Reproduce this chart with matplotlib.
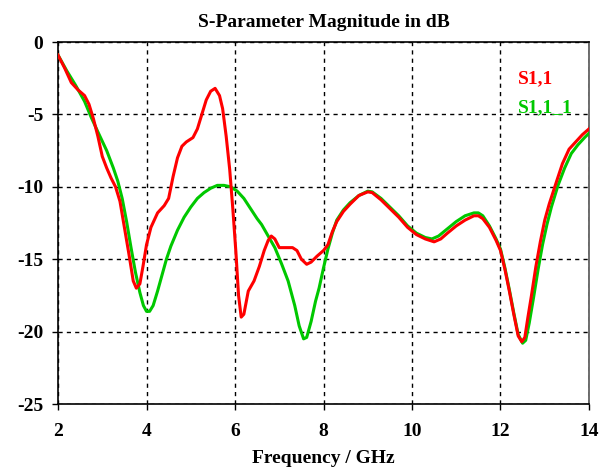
import matplotlib
matplotlib.use("Agg")
import matplotlib.pyplot as plt

plt.rcParams["font.family"] = ["Liberation Serif", "DejaVu Serif"]
plt.rcParams["font.weight"] = "bold"
plt.rcParams["axes.unicode_minus"] = False

# S1,1 magnitude (dB) vs frequency (GHz)
freq_s11 = [2.0, 2.15, 2.3, 2.45, 2.6, 2.7, 2.8, 2.9, 3.0, 3.1, 3.2, 3.3, 3.4, 3.5,
            3.6, 3.7, 3.77, 3.85, 3.92, 4.0, 4.1, 4.25, 4.4, 4.5, 4.6, 4.7, 4.8, 4.9,
            5.05, 5.15, 5.25, 5.35, 5.45, 5.55, 5.65, 5.72, 5.8, 5.88, 5.95, 6.02,
            6.08, 6.14, 6.2, 6.3, 6.43, 6.55, 6.66, 6.75, 6.82, 6.9, 7.0, 7.1, 7.3,
            7.4, 7.5, 7.62, 7.72, 7.85, 8.0, 8.1, 8.2, 8.3, 8.45, 8.6, 8.8, 9.0, 9.1,
            9.3, 9.5, 9.7, 9.9, 10.1, 10.3, 10.5, 10.65, 10.8, 11.0, 11.2, 11.4, 11.5,
            11.6, 11.75, 11.9, 12.0, 12.1, 12.2, 12.3, 12.4, 12.48, 12.55, 12.62, 12.7,
            12.8, 12.9, 13.0, 13.1, 13.27, 13.4, 13.55, 13.7, 13.85, 14.0]
db_s11 = [-0.9, -1.8, -2.8, -3.3, -3.7, -4.3, -5.3, -6.5, -7.9, -8.7, -9.4, -10.0,
          -11.0, -12.8, -14.6, -16.5, -17.0, -16.7, -15.5, -14.0, -12.8, -11.8, -11.3,
          -10.8, -9.3, -8.0, -7.2, -6.9, -6.6, -6.0, -5.0, -4.0, -3.4, -3.2, -3.7,
          -4.6, -6.5, -8.8, -11.5, -14.5, -17.5, -19.0, -18.8, -17.2, -16.5, -15.5,
          -14.4, -13.7, -13.4, -13.6, -14.2, -14.2, -14.2, -14.4, -15.0, -15.35,
          -15.2, -14.8, -14.4, -14.0, -13.1, -12.4, -11.7, -11.2, -10.6, -10.35,
          -10.4, -10.9, -11.5, -12.1, -12.8, -13.3, -13.6, -13.8, -13.6, -13.2,
          -12.7, -12.3, -12.0, -12.0, -12.2, -12.8, -13.7, -14.4, -15.7, -17.2,
          -18.8, -20.3, -20.7, -20.4, -19.0, -17.5, -15.5, -13.8, -12.3, -11.2,
          -9.6, -8.4, -7.4, -6.9, -6.4, -6.0]

# S1,1_1 magnitude (dB) vs frequency (GHz)
freq_s11_1 = [2.0, 2.2, 2.4, 2.6, 2.75, 2.9, 3.1, 3.25, 3.35, 3.45, 3.55, 3.65, 3.75,
              3.85, 3.93, 4.0, 4.07, 4.15, 4.25, 4.35, 4.45, 4.55, 4.7, 4.85, 5.0,
              5.15, 5.3, 5.45, 5.6, 5.75, 5.9, 6.05, 6.2, 6.35, 6.5, 6.6, 6.75, 6.9,
              7.05, 7.2, 7.35, 7.45, 7.55, 7.62, 7.72, 7.82, 7.9, 8.0, 8.1, 8.2, 8.3,
              8.45, 8.6, 8.8, 9.0, 9.1, 9.3, 9.5, 9.7, 9.9, 10.1, 10.3, 10.45, 10.6,
              10.8, 11.0, 11.2, 11.4, 11.5, 11.6, 11.75, 11.9, 12.0, 12.1, 12.2, 12.3,
              12.4, 12.5, 12.57, 12.65, 12.75, 12.85, 12.95, 13.05, 13.15, 13.3,
              13.45, 13.6, 13.75, 13.9, 14.0]
db_s11_1 = [-0.9, -2.0, -3.0, -4.1, -5.2, -6.2, -7.5, -8.7, -9.6, -10.8, -12.4,
            -14.2, -15.9, -17.3, -18.2, -18.6, -18.6, -18.2, -17.2, -16.1, -15.0,
            -14.1, -13.0, -12.1, -11.4, -10.8, -10.4, -10.1, -9.9, -9.9, -10.0,
            -10.3, -10.8, -11.5, -12.2, -12.6, -13.4, -14.2, -15.3, -16.5, -18.2,
            -19.6, -20.5, -20.4, -19.3, -17.9, -17.0, -15.6, -14.3, -13.2, -12.3,
            -11.6, -11.1, -10.6, -10.3, -10.35, -10.8, -11.4, -12.0, -12.7, -13.2,
            -13.5, -13.6, -13.4, -12.9, -12.4, -12.0, -11.8, -11.8, -12.0, -12.7,
            -13.6, -14.3, -15.6, -17.1, -18.7, -20.2, -20.8, -20.6, -19.4, -17.6,
            -15.7, -14.0, -12.6, -11.4, -9.9, -8.7, -7.7, -7.1, -6.6, -6.3]

x_ticks = [2, 4, 6, 8, 10, 12, 14]
y_ticks = [0, -5, -10, -15, -20, -25]

fs = 14

fig = plt.figure(figsize=(6.12, 4.70), dpi=100)
ax = fig.add_axes([0.0948, 0.1404, 0.8676, 0.7702])

ax.plot(freq_s11_1, db_s11_1, color="#00c800", lw=2.2, zorder=3)
ax.plot(freq_s11, db_s11, color="#ff0000", lw=2.2, zorder=4)

ax.set_xlim(2, 14)
ax.set_ylim(-25, 0)
ax.set_xticks(x_ticks)
ax.set_yticks(y_ticks)
ax.set_xticklabels([str(v) for v in x_ticks], fontsize=fs, fontweight="bold")
ax.set_yticklabels([str(v) for v in y_ticks], fontsize=fs, fontweight="bold")
ax.tick_params(direction="out", length=4.5, width=1)
ax.tick_params(axis="x", pad=9)
ax.tick_params(axis="y", pad=6)

ax.grid(True, color="black", linestyle=(0, (3, 3)), linewidth=1)
for side in ["left", "bottom", "top"]:
    ax.spines[side].set_color("black")
    ax.spines[side].set_linewidth(1.2)
ax.spines["right"].set_color("#555555")
ax.spines["right"].set_linewidth(1.2)

ax.set_title("S-Parameter Magnitude in dB", fontsize=fs, fontweight="bold", pad=11)
ax.set_xlabel("Frequency / GHz", fontsize=fs, fontweight="bold", labelpad=7.5)

ax.text(0.866, 0.887, "S1,1", color="#ff0000", fontsize=fs, fontweight="bold",
        transform=ax.transAxes, va="baseline", ha="left")
ax.text(0.866, 0.807, "S1,1_1", color="#00c800", fontsize=fs, fontweight="bold",
        transform=ax.transAxes, va="baseline", ha="left")

fig.savefig("out.png", dpi=100)
